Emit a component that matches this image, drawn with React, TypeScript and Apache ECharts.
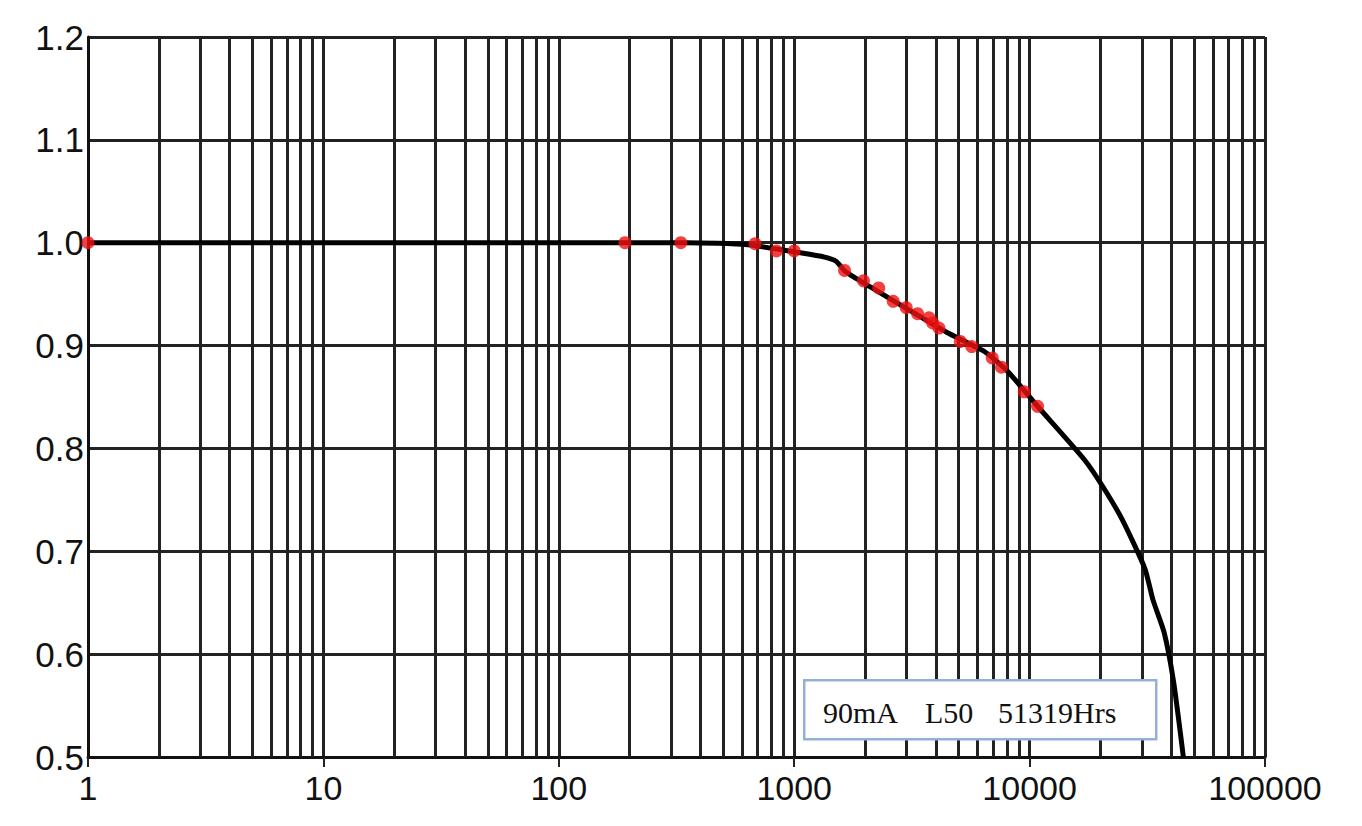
import React, { useEffect, useRef } from "react";
import * as echarts from "echarts";

// Observed data (red points): hours vs. normalized lumen maintenance
const obsHours = [1, 191, 330, 682, 841, 1000, 1636, 1969, 2287, 2634, 2990, 3344, 3739, 3880, 4121, 5077, 5675, 6939, 7590, 9487, 10810];
const obsLumen = [1.0, 1.0, 1.0, 0.999, 0.992, 0.992, 0.973, 0.963, 0.956, 0.943, 0.937, 0.931, 0.927, 0.922, 0.917, 0.904, 0.899, 0.888, 0.879, 0.855, 0.841];

// Fitted projection curve (black line)
const fitHours = [1, 350, 634, 1077, 1347, 1506, 1650, 2107, 3055, 4438, 6447, 8057, 10810, 17100, 20450, 24720, 30900, 33400, 37300, 40900, 45000];
const fitLumen = [1.0, 1.0, 0.998, 0.99, 0.986, 0.982, 0.972, 0.957, 0.935, 0.913, 0.894, 0.875, 0.841, 0.789, 0.763, 0.731, 0.683, 0.653, 0.621, 0.573, 0.5];

// Axis settings
const xMin = 1;
const xMax = 100000;
const yMin = 0.5;
const yMax = 1.2;
const yStep = 0.1;
const minorMultipliers = [2, 3, 4, 5, 6, 7, 8, 9];
const decadeStarts = [1, 10, 100, 1000, 10000];

const legendParts = ["90mA", "L50", "51319Hrs"];

export default function App() {
  const ref = useRef<HTMLDivElement>(null);

  useEffect(() => {
    if (!ref.current) return;
    const chart = echarts.init(ref.current, null, { renderer: "svg" });

    const minorGrid: number[] = [];
    decadeStarts.forEach((d) => minorMultipliers.forEach((m) => minorGrid.push(d * m)));

    const gridColor = "#222222";
    const labelFont = "'Liberation Sans', Arial, sans-serif";
    const legendFont = "30px 'Liberation Serif', 'Times New Roman', serif";

    chart.setOption({
      animation: false,
      backgroundColor: "#ffffff",
      grid: { left: 88, right: 97, top: 37, bottom: 69, containLabel: false },
      xAxis: {
        type: "log",
        logBase: 10,
        min: xMin,
        max: xMax,
        axisLine: { show: true, onZero: false, lineStyle: { color: "#111", width: 3 } },
        axisTick: { show: true, length: 10, lineStyle: { color: "#222", width: 2 } },
        axisLabel: {
          fontSize: 34,
          fontFamily: labelFont,
          color: "#111",
          margin: 14,
          formatter: (v: number) => String(Math.round(v)),
        },
        splitLine: { show: true, lineStyle: { color: gridColor, width: 3 } },
      },
      yAxis: {
        type: "value",
        min: yMin,
        max: yMax,
        interval: yStep,
        axisLine: { show: true, lineStyle: { color: "#111", width: 3 } },
        axisTick: { show: false },
        axisLabel: {
          fontSize: 35,
          fontFamily: labelFont,
          color: "#111",
          margin: 4,
          formatter: (v: number) => v.toFixed(1),
        },
        splitLine: { show: true, lineStyle: { color: gridColor, width: 3 } },
      },
      series: [
        {
          type: "line",
          name: "fit",
          data: fitHours.map((h, i) => [h, fitLumen[i]]),
          showSymbol: false,
          smooth: 0.2,
          lineStyle: { color: "#000", width: 5 },
          z: 3,
          markLine: {
            silent: true,
            symbol: "none",
            label: { show: false },
            lineStyle: { color: gridColor, width: 3, type: "solid" },
            data: minorGrid.map((v) => ({ xAxis: v })),
            z: 1,
          },
        },
        {
          type: "scatter",
          name: "measured",
          data: obsHours.map((h, i) => [h, obsLumen[i]]),
          symbol: "circle",
          symbolSize: 13,
          itemStyle: { color: "#f01010" },
          z: 5,
        },
      ],
      graphic: [
        {
          type: "rect",
          left: 803,
          top: 679,
          shape: { width: 352, height: 59 },
          style: { fill: "#ffffff", stroke: "#93b1d6", lineWidth: 2.5 },
          z: 100,
        },
        {
          type: "text",
          left: 823,
          top: 697,
          style: { text: legendParts[0], font: legendFont, fill: "#111" },
          z: 101,
        },
        {
          type: "text",
          left: 925,
          top: 697,
          style: { text: legendParts[1], font: legendFont, fill: "#111" },
          z: 101,
        },
        {
          type: "text",
          left: 998,
          top: 697,
          style: { text: legendParts[2], font: legendFont, fill: "#111" },
          z: 101,
        },
      ],
    });

    return () => chart.dispose();
  }, []);

  return (
    <div
      ref={ref}
      style={{ position: "fixed", left: 0, top: 0, width: 1362, height: 826, background: "#fff" }}
    />
  );
}
